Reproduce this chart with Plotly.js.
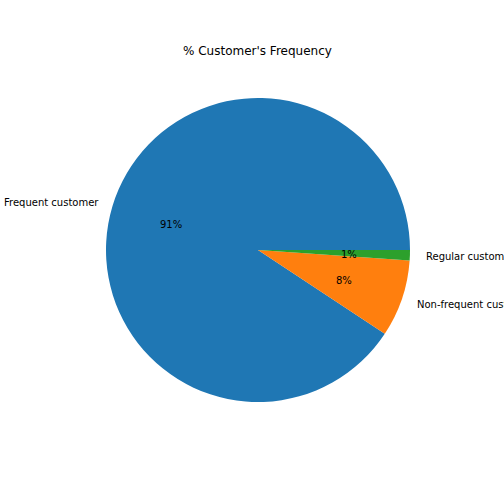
<!DOCTYPE html>
<html>
<head>
<meta charset="utf-8">
<script src="https://cdn.plot.ly/plotly-3.0.1.min.js"></script>
<style>html,body{margin:0;padding:0;background:#fff;}#chart{width:504px;height:504px;}</style>
</head>
<body>
<div id="chart"></div>
<script>
var categories = ["Frequent customer", "Non-frequent customer", "Regular customer"];
var values = [90.7, 8.2, 1.1];
var colors = ["#1f77b4", "#ff7f0e", "#2ca02c"];
var chartTitle = "% Customer's Frequency";

var W = 504, H = 504;
var cxPx = 258, cyPx = 250, Rpx = 152;
var dom = {
  x: [(cxPx - Rpx) / W, (cxPx + Rpx) / W],
  y: [1 - (cyPx + Rpx) / H, 1 - (cyPx - Rpx) / H]
};

var total = values.reduce(function (a, b) { return a + b; }, 0);
var annotations = [];
var start = 0;
var font = {family: "DejaVu Sans, sans-serif", size: 10, color: "#000"};
values.forEach(function (v, i) {
  var span = v / total * 360;
  var mid = (start + span / 2) * Math.PI / 180;
  start += span;
  var cosA = Math.cos(mid), sinA = Math.sin(mid);
  var lx = cxPx + 1.1 * Rpx * cosA, ly = cyPx - 1.1 * Rpx * sinA;
  annotations.push({
    x: lx / W, y: 1 - ly / H, xref: "paper", yref: "paper",
    text: categories[i], showarrow: false,
    xanchor: cosA >= 0 ? "left" : "right", yanchor: "middle",
    xshift: cosA >= 0 ? -1 : 3, yshift: -1,
    font: font
  });
  var px = cxPx + 0.6 * Rpx * cosA, py = cyPx - 0.6 * Rpx * sinA;
  annotations.push({
    x: px / W, y: 1 - py / H, xref: "paper", yref: "paper",
    text: Math.round(v / total * 100) + "%", showarrow: false,
    xanchor: "center", yanchor: "middle", yshift: -1,
    font: font
  });
});
annotations.push({
  x: cxPx / W, y: 1 - 50 / H, xref: "paper", yref: "paper",
  text: chartTitle, showarrow: false, xanchor: "center", yanchor: "middle",
  xshift: -1, yshift: -1,
  font: {family: "DejaVu Sans, sans-serif", size: 12, color: "#000"}
});

// Plotly (counterclockwise) places the first slice clockwise from `rotation`;
// matplotlib starts the first slice at 3 o'clock going counterclockwise.
var rotation = 90 + 360 * (1 - values[0] / total);

var trace = {
  type: "pie",
  labels: categories,
  values: values,
  sort: false,
  direction: "counterclockwise",
  rotation: rotation,
  textinfo: "none",
  hoverinfo: "none",
  marker: {colors: colors, line: {width: 0}},
  domain: dom,
  showlegend: false
};

var layout = {
  width: W, height: H,
  margin: {l: 0, r: 0, t: 0, b: 0},
  paper_bgcolor: "#fff",
  showlegend: false,
  annotations: annotations
};

Plotly.newPlot("chart", [trace], layout, {displayModeBar: false, staticPlot: true});
</script>
</body>
</html>
